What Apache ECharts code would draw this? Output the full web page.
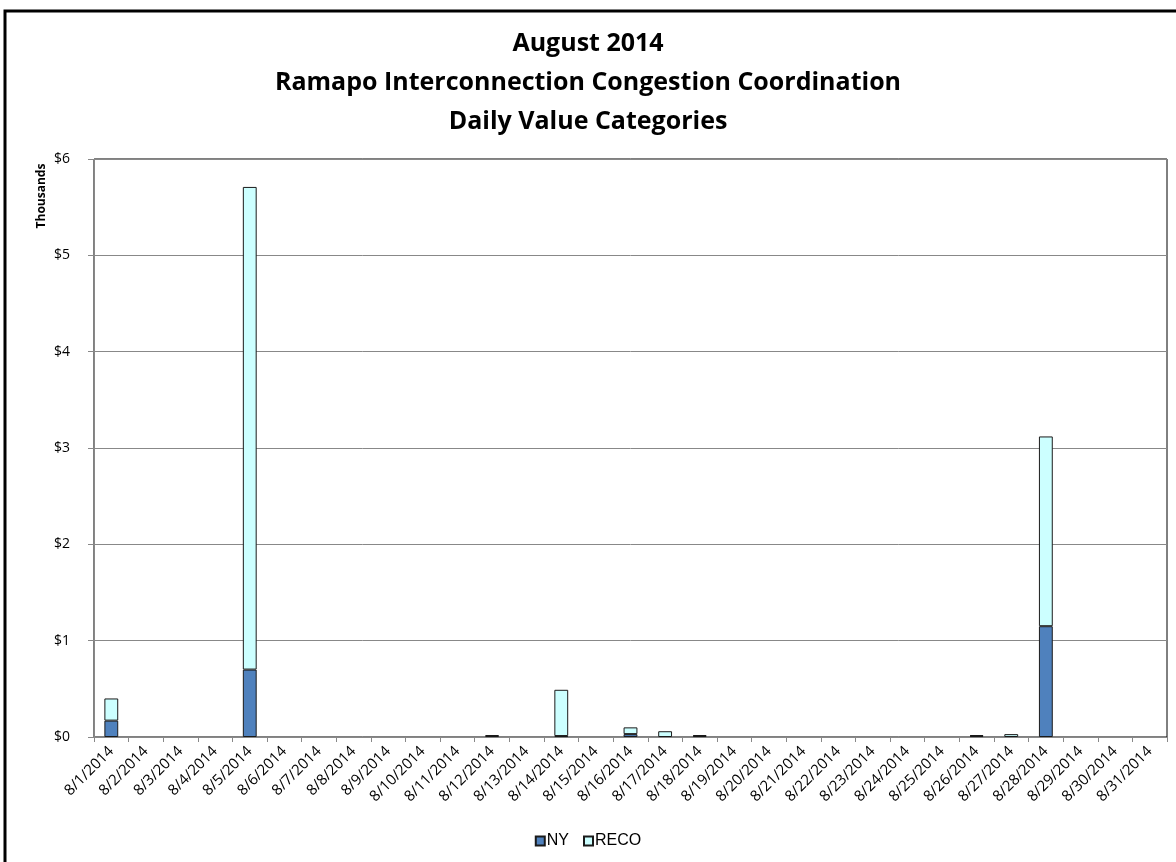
<!DOCTYPE html>
<html><head><meta charset="utf-8">
<script src="https://cdn.jsdelivr.net/npm/echarts@6/dist/echarts.min.js"></script>
<style>html,body{margin:0;padding:0;background:#fff}#c{width:1176px;height:862px}</style>
</head><body><div id="c"></div>
<script>
var categories = [];
for (var d = 1; d <= 31; d++) categories.push('8/' + d + '/2014');
var nyValues   = [0.17,0,0,0,0.70,0,0,0,0,0,0,0.01,0,0.01,0,0.03,0,0.01,0,0,0,0,0,0,0,0.01,0,1.15,0,0,0];
var recoValues = [0.23,0,0,0,5.01,0,0,0,0,0,0,0.01,0,0.48,0,0.07,0.06,0.01,0,0,0,0,0,0,0,0.01,0.03,1.97,0,0,0];
var yTicks = ['$0','$1','$2','$3','$4','$5','$6'];

function nz(arr) { return arr.map(function (v) { return v === 0 ? null : v; }); }

var chart = echarts.init(document.getElementById('c'));
chart.setOption({
  animation: false,
  backgroundColor: '#fff',
  title: {
    text: 'August 2014\nRamapo Interconnection Congestion Coordination\nDaily Value Categories',
    left: 'center', top: 19,
    textStyle: { fontFamily: 'Open Sans', fontWeight: 'bold', fontSize: 25, lineHeight: 39, color: '#000' }
  },
  legend: {
    bottom: 8, left: 'center', itemWidth: 9, itemHeight: 9, itemGap: 14, icon: 'rect',
    textStyle: { fontFamily: 'Liberation Sans', fontSize: 16, color: '#000', padding: [0, 0, 0, -3] },
    data: ['NY', 'RECO']
  },
  graphic: [
    { type: 'rect', shape: { x: 5, y: 11, width: 1176, height: 880 }, style: { fill: 'none', stroke: '#000', lineWidth: 3 }, silent: true },
    { type: 'text', x: 42, y: 196, rotation: Math.PI / 2,
      style: { text: 'Thousands', fontFamily: 'Open Sans', fontWeight: 'bold', fontSize: 12, fill: '#000', align: 'center', verticalAlign: 'middle' } }
  ],
  grid: { left: 94, right: 9, top: 159, bottom: 125, show: true, borderColor: '#000', borderWidth: 1, containLabel: false },
  xAxis: {
    type: 'category', data: categories,
    axisLine: { lineStyle: { color: '#888' } },
    axisTick: { show: true, length: 5, lineStyle: { color: '#888' } },
    axisLabel: { rotate: 45, interval: 0, fontFamily: 'Open Sans', fontSize: 15, color: '#000', margin: 12 }
  },
  yAxis: {
    type: 'value', min: 0, max: 6, interval: 1,
    axisLine: { show: true, lineStyle: { color: '#888' } },
    axisTick: { show: true, length: 6, lineStyle: { color: '#888' } },
    splitLine: { lineStyle: { color: '#888', width: 1 } },
    axisLabel: { fontFamily: 'Open Sans', fontSize: 14, color: '#000', margin: 24,
      formatter: function (v) { return yTicks[Math.round(v)]; } }
  },
  series: [
    { name: 'NY', type: 'bar', stack: 't', data: nz(nyValues), barWidth: '40%',
      itemStyle: { color: '#4F81BD', borderColor: '#1a1a1a', borderWidth: 1 } },
    { name: 'RECO', type: 'bar', stack: 't', data: nz(recoValues), barWidth: '40%',
      itemStyle: { color: '#CCFFFF', borderColor: '#1a1a1a', borderWidth: 1 } }
  ]
});
</script></body></html>
